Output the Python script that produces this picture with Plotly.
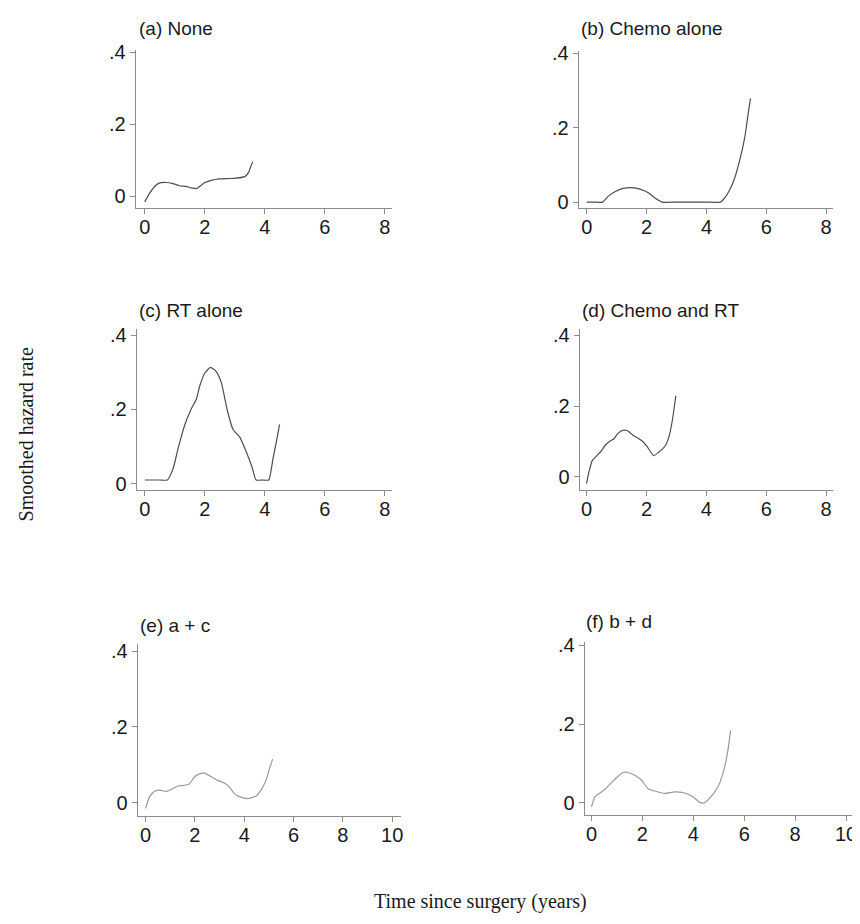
import plotly.graph_objects as go

# The page body has an 8px default margin, so the figure is drawn 8px smaller
# and all reference pixel positions are shifted by that offset.
OFF = 8
W, H = 860 - OFF, 924 - OFF

# ---- data ----
a_x = [0, 0.17, 0.33, 0.5, 0.72, 0.94, 1.16, 1.38, 1.55, 1.71, 1.83, 1.99, 2.21, 2.49, 2.77, 3.04, 3.35, 3.46, 3.54, 3.6]
a_y = [-0.016, 0.009, 0.027, 0.037, 0.038, 0.035, 0.029, 0.027, 0.023, 0.021, 0.027, 0.037, 0.044, 0.048, 0.049, 0.050, 0.055, 0.066, 0.084, 0.096]

b_x = [0, 0.25, 0.53, 0.72, 0.94, 1.22, 1.5, 1.78, 2.06, 2.28, 2.52, 3.0, 3.5, 4.0, 4.47, 4.61, 4.78, 4.94, 5.11, 5.28, 5.39, 5.47]
b_y = [0, 0, 0, 0.016, 0.028, 0.037, 0.039, 0.035, 0.025, 0.011, 0, 0, 0, 0, 0, 0.011, 0.033, 0.064, 0.112, 0.174, 0.235, 0.279]

c_x = [0, 0.25, 0.5, 0.75, 0.94, 1.11, 1.33, 1.55, 1.72, 1.83, 2.0, 2.19, 2.38, 2.55, 2.75, 2.94, 3.16, 3.38, 3.58, 3.71, 3.92, 4.13, 4.27, 4.38, 4.49]
c_y = [0.01, 0.01, 0.01, 0.01, 0.04, 0.095, 0.158, 0.202, 0.228, 0.263, 0.298, 0.313, 0.302, 0.272, 0.197, 0.146, 0.126, 0.086, 0.043, 0.01, 0.01, 0.01, 0.067, 0.111, 0.16]

d_x = [0, 0.08, 0.19, 0.32, 0.47, 0.63, 0.8, 0.91, 1.02, 1.19, 1.35, 1.52, 1.68, 1.85, 2.02, 2.24, 2.4, 2.63, 2.76, 2.87, 2.98]
d_y = [-0.019, 0.014, 0.046, 0.058, 0.071, 0.09, 0.102, 0.107, 0.12, 0.131, 0.131, 0.12, 0.111, 0.102, 0.086, 0.06, 0.069, 0.088, 0.116, 0.162, 0.229]

e_x = [0, 0.16, 0.36, 0.57, 0.84, 1.04, 1.31, 1.58, 1.78, 1.98, 2.18, 2.39, 2.65, 2.92, 3.19, 3.4, 3.6, 3.8, 4.14, 4.47, 4.68, 4.88, 5.04, 5.15]
e_y = [-0.015, 0.016, 0.03, 0.033, 0.03, 0.035, 0.044, 0.046, 0.05, 0.068, 0.076, 0.078, 0.069, 0.059, 0.052, 0.041, 0.024, 0.016, 0.011, 0.017, 0.033, 0.059, 0.093, 0.115]

f_x = [0, 0.13, 0.33, 0.52, 0.78, 1.05, 1.24, 1.44, 1.7, 1.96, 2.22, 2.48, 2.88, 3.27, 3.66, 3.99, 4.25, 4.44, 4.71, 4.97, 5.16, 5.36, 5.46]
f_y = [-0.01, 0.015, 0.025, 0.034, 0.051, 0.068, 0.077, 0.077, 0.07, 0.058, 0.036, 0.03, 0.024, 0.028, 0.025, 0.015, 0.001, 0, 0.017, 0.041, 0.074, 0.134, 0.184]

titles = ["(a) None", "(b) Chemo alone", "(c) RT alone", "(d) Chemo and RT", "(e) a + c", "(f) b + d"]
y_tickvals = [0, 0.2, 0.4]
y_ticktext = ["0", ".2", ".4"]
x_ticks_short = [0, 2, 4, 6, 8]
x_ticks_long = [0, 2, 4, 6, 8, 10]
y_title = "Smoothed hazard rate"
x_title = "Time since surgery (years)"

series = [(a_x, a_y), (b_x, b_y), (c_x, c_y), (d_x, d_y), (e_x, e_y), (f_x, f_y)]

# ---- layout (reference pixel boxes: left, right, top, bottom) ----
boxes = [
    (136, 393, 42, 202),
    (580, 835, 43, 202),
    (137, 393, 325, 488),
    (581, 835, 325, 488),
    (138, 402, 645, 819),
    (586, 857, 643, 818),
]
xranges = [[-0.30, 8.24], [-0.27, 8.23], [-0.27, 8.24], [-0.23, 8.23], [-0.32, 10.36], [-0.27, 10.35]]
yranges = [[-0.033, 0.405], [-0.016, 0.405], [-0.016, 0.416], [-0.036, 0.417], [-0.034, 0.418], [-0.030, 0.408]]
title_pos = [(137, 20), (580, 20), (137, 306), (581, 306), (138, 626), (585, 622)]
line_colors = ["#4d4d4d", "#4d4d4d", "#4d4d4d", "#4d4d4d", "#9a9a9a", "#9a9a9a"]


def px(x):
    return (x - OFF) / W


def py(y):
    return 1 - (y - OFF) / H


fig = go.Figure()
layout = dict(
    width=W, height=H,
    margin=dict(l=0, r=0, t=0, b=0),
    paper_bgcolor="white", plot_bgcolor="white",
    showlegend=False,
    font=dict(family="Liberation Sans, Arial, sans-serif", color="#1a1a1a"),
)
annotations = []
axis_color = "#8c8c8c"

for i, ((xs, ys), box) in enumerate(zip(series, boxes)):
    n = "" if i == 0 else str(i + 1)
    l, r, t, b = box
    fig.add_trace(go.Scatter(
        x=xs, y=ys, mode="lines",
        line=dict(color=line_colors[i], width=1.2, shape="spline", smoothing=0.5),
        xaxis="x" + n, yaxis="y" + n, hoverinfo="skip",
    ))
    xt = x_ticks_long if i >= 4 else x_ticks_short
    layout["xaxis" + n] = dict(
        domain=[px(l), min(px(r), 1.0)], anchor="y" + n, range=xranges[i],
        tickvals=xt, ticktext=[str(v) for v in xt],
        showgrid=False, zeroline=False, showline=True, linecolor=axis_color, linewidth=1,
        ticks="outside", ticklen=5, tickcolor=axis_color, tickwidth=1,
        ticklabelstandoff=-4,
        tickfont=dict(size=20, color="#1a1a1a"),
    )
    layout["yaxis" + n] = dict(
        domain=[py(b), py(t)], anchor="x" + n, range=yranges[i],
        tickvals=y_tickvals, ticktext=y_ticktext,
        showgrid=False, zeroline=False, showline=True, linecolor=axis_color, linewidth=1,
        ticks="outside", ticklen=5, tickcolor=axis_color, tickwidth=1,
        tickfont=dict(size=20, color="#1a1a1a"),
    )
    tx, ty = title_pos[i]
    annotations.append(dict(
        text=titles[i], x=px(tx), y=py(ty), xref="paper", yref="paper",
        xanchor="left", yanchor="middle", showarrow=False,
        font=dict(size=19, color="#1a1a1a"),
    ))

annotations.append(dict(
    text=y_title, x=px(26), y=py(432), xref="paper", yref="paper",
    xanchor="center", yanchor="middle", showarrow=False, textangle=-90,
    font=dict(size=20, family="Liberation Serif, Times New Roman, serif", color="#1a1a1a"),
))
annotations.append(dict(
    text=x_title, x=px(482), y=py(906), xref="paper", yref="paper",
    xanchor="center", yanchor="middle", showarrow=False,
    font=dict(size=20, family="Liberation Serif, Times New Roman, serif", color="#1a1a1a"),
))
layout["annotations"] = annotations
fig.update_layout(**layout)
fig.write_html("out.html")
